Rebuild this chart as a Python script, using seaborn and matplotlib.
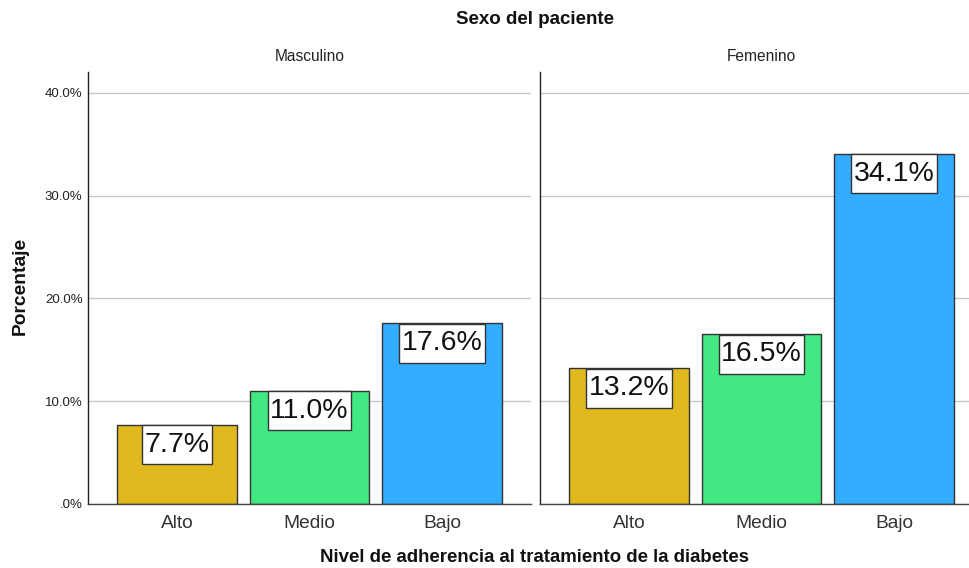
import matplotlib
matplotlib.use("Agg")
import matplotlib.pyplot as plt
from matplotlib.path import Path
import seaborn as sns
import pandas as pd

sns.set_theme(style="white")
plt.rcParams['font.family'] = ['Liberation Sans', 'DejaVu Sans']

categories = ["Alto", "Medio", "Bajo"]
panels = ["Masculino", "Femenino"]
masculino_values = [7.7, 11.0, 17.6]
femenino_values = [13.2, 16.5, 34.1]
ytick_values = [0, 10, 20, 30, 40]
ytick_labels = [".0%", "10.0%", "20.0%", "30.0%", "40.0%"]
bar_colors = ["#e0b91f", "#42e882", "#33adff"]

data = pd.DataFrame({
    "sexo": [panels[0]] * 3 + [panels[1]] * 3,
    "nivel": categories * 2,
    "pct": masculino_values + femenino_values,
})

PAD_X = 2.5   # px
PAD_Y = 6.5   # px


def label_box(x0, y0, width, height, mutation_size):
    x0 -= PAD_X
    x1 = x0 + width + 2 * PAD_X
    y0 -= PAD_Y
    y1 = y0 + height + 2 * PAD_Y
    return Path([(x0, y0), (x1, y0), (x1, y1), (x0, y1), (x0, y0)], closed=True)


fig = plt.figure(figsize=(9.7, 5.68), dpi=100)
W, H = 970, 568
ax_l = fig.add_axes([88 / W, 1 - 504 / H, 443 / W, 432 / H])
ax_r = fig.add_axes([540 / W, 1 - 504 / H, 443 / W, 432 / H])

for ax, panel in zip([ax_l, ax_r], panels):
    sub = data[data["sexo"] == panel]
    sns.barplot(data=sub, x="nivel", y="pct", hue="nivel", order=categories,
                hue_order=categories, palette=bar_colors, ax=ax, width=0.905,
                edgecolor="#333333", linewidth=1.0, legend=False, dodge=False,
                saturation=1)
    ax.set_ylim(0, 42.04)
    ax.set_xlim(-0.672, 2.672)
    ax.set_yticks(ytick_values)
    ax.grid(axis="y", color="#c8c8c8", linewidth=1.0)
    ax.set_axisbelow(True)
    for s in ["top", "right"]:
        ax.spines[s].set_visible(False)
    ax.spines["left"].set_color("#222222")
    ax.spines["bottom"].set_color("#444444")
    ax.spines["left"].set_linewidth(1.0)
    ax.spines["bottom"].set_linewidth(1.0)
    ax.tick_params(axis="both", length=0)
    ax.tick_params(axis="x", labelsize=13.8, colors="#333333", pad=8)
    ax.set_xlabel("")
    ax.set_ylabel("")
    ax.set_title(panel, fontsize=11.2, color="#222222", pad=8)
    for i, v in enumerate(sub["pct"].tolist()):
        ax.annotate(f"{v:.1f}%", xy=(i, v), xytext=(0, -(PAD_Y + 0.5) * 0.72),
                    textcoords="offset points", ha="center", va="top",
                    fontsize=20.5, color="#111111",
                    bbox=dict(boxstyle=label_box, facecolor="white",
                              edgecolor="#333333", linewidth=1.0))

ax_l.set_yticklabels(ytick_labels, fontsize=9.5, color="#222222")
ax_r.set_yticklabels([])
ax_l.tick_params(axis="y", pad=4)

fig.text(535 / W, 1 - 20 / H, "Sexo del paciente", ha="center", va="center",
         fontsize=13.5, fontweight="bold", color="#111111")
fig.text(534 / W, 1 - 557 / H, "Nivel de adherencia al tratamiento de la diabetes",
         ha="center", va="center", fontsize=13.4, fontweight="bold", color="#111111")
fig.text(20 / W, 1 - 286 / H, "Porcentaje", ha="center", va="center", rotation=90,
         fontsize=13.9, fontweight="bold", color="#111111")

fig.savefig("out.png", dpi=100, facecolor="white")
